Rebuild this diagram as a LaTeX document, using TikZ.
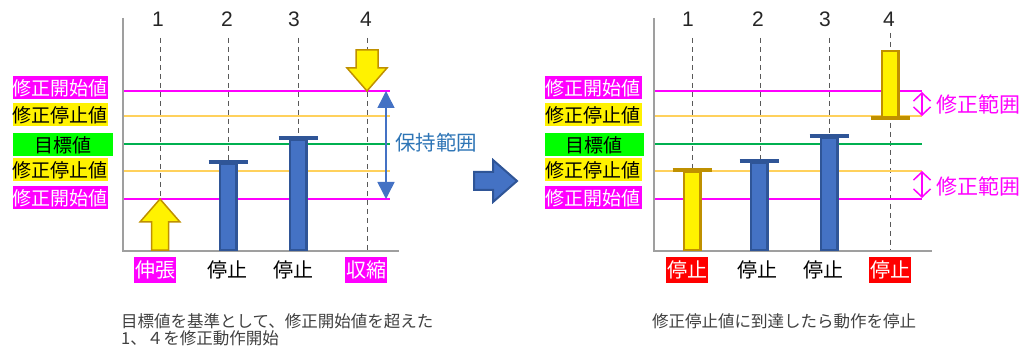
\documentclass[tikz,border=0pt]{standalone}
\usepackage{fontspec}
\setmainfont{Noto Sans CJK JP}
\newfontfamily\numfont{Liberation Sans}
\usetikzlibrary{arrows.meta, positioning}
\definecolor{startmag}{HTML}{FF00FF}
\definecolor{stoporange}{HTML}{FFD15C}
\definecolor{goalgreen}{HTML}{00B050}
\definecolor{labelgreen}{HTML}{00FF00}
\definecolor{barblue}{HTML}{4472C4}
\definecolor{bardark}{HTML}{2F5597}
\definecolor{bargold}{HTML}{BF9000}
\definecolor{holdblue}{HTML}{2E75B6}
\definecolor{captiongray}{HTML}{404040}

\begin{document}
\begin{tikzpicture}[x=1pt,y=-1pt,
    axisline/.style={draw=gray!75,line width=1.2pt},
    guide/.style={draw=gray!70!black,dash pattern=on 5pt off 4pt,line width=0.9pt},
    startline/.style={draw=startmag,line width=1.5pt},
    stopline/.style={draw=stoporange,line width=1.2pt},
    goalline/.style={draw=goalgreen,line width=1.8pt},
    levelbox/.style={minimum width=95pt,minimum height=23pt,inner sep=0pt,font=\fontsize{19}{19}\selectfont},
    colnum/.style={font=\numfont\fontsize{21}{21}\selectfont,text=black!85},
    statebox/.style={minimum width=42pt,minimum height=26pt,inner sep=0pt,font=\fontsize{20}{20}\selectfont},
    bluebar/.style={draw=bardark,fill=barblue,line width=2.5pt,minimum width=16.5pt,inner sep=0pt},
    yellowbar/.style={draw=bargold,fill=yellow,line width=2.5pt,minimum width=16.5pt,inner sep=0pt},
    bluecap/.style={draw=bardark,line width=4pt},
    yellowcap/.style={draw=bargold,line width=4pt},
    blockarrow/.style={draw=bargold,fill=yellow,line width=1.5pt,line join=miter},
    holdarrow/.style={draw=barblue,line width=1.5pt,{Triangle[width=17pt,length=17pt]}-{Triangle[width=17pt,length=17pt]}},
    fixarrow/.style={draw=startmag,line width=1.5pt,{Straight Barb[width=17pt,length=8pt]}-{Straight Barb[width=17pt,length=8pt]}},
    caption/.style={font=\fontsize{16.5}{17}\selectfont,text=captiongray,align=left,inner sep=0pt}
  ]
    \useasboundingbox (0,0) rectangle (1024,355);

    % left: before correction
    \draw[guide] (160,38) -- (160,251);
    \draw[guide] (228,38) -- (228,251);
    \draw[guide] (298,38) -- (298,251);
    \draw[guide] (367,38) -- (367,251);
    \node[colnum] (numA1) at (158,19) {1};
    \node[colnum] (numA2) at (227,19) {2};
    \node[colnum] (numA3) at (294,19) {3};
    \node[colnum] (numA4) at (366,19) {4};

    \draw[startline] (123,91) -- (390,91);
    \draw[stopline] (123,116) -- (390,116);
    \draw[goalline] (123,144) -- (390,144);
    \draw[stopline] (123,171) -- (390,171);
    \draw[startline] (123,199) -- (390,199);
    \draw[axisline] (123,18) -- (123,251) -- (399,251);

    \node[levelbox,fill=startmag,text=white] (startTopA) at (60,88) {修正開始値};
    \node[levelbox,fill=yellow] (stopTopA) at (60,115) {修正停止値};
    \node[levelbox,fill=labelgreen,minimum width=100pt] (goalA) at (63,145) {目標値};
    \node[levelbox,fill=yellow] (stopBotA) at (60,170) {修正停止値};
    \node[levelbox,fill=startmag,text=white] (startBotA) at (60,198) {修正開始値};

    \node[bluebar,minimum height=86pt,anchor=south] (barA2) at (228,251) {};
    \draw[bluecap] ([xshift=-10pt]barA2.north west) -- ([xshift=10pt]barA2.north east);
    \node[bluebar,minimum height=110pt,anchor=south] (barA3) at (298,251) {};
    \draw[bluecap] ([xshift=-10pt]barA3.north west) -- ([xshift=10pt]barA3.north east);

    \filldraw[blockarrow] (160,199) -- (180,222) -- (168.5,222) -- (168.5,250) -- (151.5,250) -- (151.5,222) -- (140,222) -- cycle;
    \filldraw[blockarrow] (356,50) -- (378,50) -- (378,68) -- (387,68) -- (367,91) -- (347,68) -- (356,68) -- cycle;

    \coordinate (holdTop) at (386,91);
    \coordinate (holdBot) at (386,199);
    \coordinate (holdMid) at (386,143);
    \draw[holdarrow] (holdTop) -- (holdBot);
    \node[font=\fontsize{20.5}{20.5}\selectfont,text=holdblue,inner sep=0pt,right=9pt of holdMid] (hold) {保持範囲};

    \node[statebox,fill=startmag,text=white] (stateA1) at (155,270) {伸張};
    \node[statebox] (stateA2) at (227,270) {停止};
    \node[statebox] (stateA3) at (293,270) {停止};
    \node[statebox,fill=startmag,text=white] (stateA4) at (366,270) {収縮};

    \node[caption,anchor=west] (noteA) at (121,329.5) {目標値を基準として、修正開始値を超えた\\1、４を修正動作開始};

    % middle
    \filldraw[draw=bardark,fill=barblue,line width=2pt] (474,172) -- (493,172) -- (493,160) -- (517,181) -- (493,202) -- (493,190) -- (474,190) -- cycle;

    % right: after correction
    \draw[guide] (692,38) -- (692,251);
    \draw[guide] (760,38) -- (760,251);
    \draw[guide] (829,38) -- (829,251);
    \draw[guide] (890,33) -- (890,251);
    \node[colnum] (numB1) at (688,19) {1};
    \node[colnum] (numB2) at (758,19) {2};
    \node[colnum] (numB3) at (825,19) {3};
    \node[colnum] (numB4) at (889,19) {4};

    \draw[startline] (654,91) -- (922,91);
    \draw[stopline] (654,116) -- (922,116);
    \draw[goalline] (654,144) -- (922,144);
    \draw[stopline] (654,171) -- (922,171);
    \draw[startline] (654,199) -- (922,199);
    \draw[axisline] (654,18) -- (654,251) -- (932,251);

    \node[levelbox,fill=startmag,text=white,minimum width=97pt] (startTopB) at (593,88) {修正開始値};
    \node[levelbox,fill=yellow,minimum width=97pt] (stopTopB) at (593,115) {修正停止値};
    \node[levelbox,fill=labelgreen,minimum width=99pt] (goalB) at (594,145) {目標値};
    \node[levelbox,fill=yellow,minimum width=97pt] (stopBotB) at (593,170) {修正停止値};
    \node[levelbox,fill=startmag,text=white,minimum width=97pt] (startBotB) at (593,198) {修正開始値};

    \node[yellowbar,minimum height=78pt,anchor=south] (barB1) at (692,251) {};
    \draw[yellowcap] ([xshift=-10pt]barB1.north west) -- ([xshift=10pt]barB1.north east);
    \node[bluebar,minimum height=87pt,anchor=south] (barB2) at (759,251) {};
    \draw[bluecap] ([xshift=-10pt]barB2.north west) -- ([xshift=10pt]barB2.north east);
    \node[bluebar,minimum height=112pt,anchor=south] (barB3) at (829,251) {};
    \draw[bluecap] ([xshift=-10pt]barB3.north west) -- ([xshift=10pt]barB3.north east);
    \node[yellowbar,minimum height=66pt,anchor=north] (barB4) at (890,50) {};
    \draw[yellowcap] ([xshift=-10pt]barB4.south west) -- ([xshift=10pt]barB4.south east);

    \coordinate (fixTopA) at (922,92);
    \coordinate (fixTopB) at (922,116);
    \coordinate (fixBotA) at (922,171);
    \coordinate (fixBotB) at (922,198);
    \draw[fixarrow] (fixTopA) -- (fixTopB);
    \draw[fixarrow] (fixBotA) -- (fixBotB);
    \node[font=\fontsize{21}{21}\selectfont,text=startmag,inner sep=0pt,anchor=west] (fixUpper) at (936,104) {修正範囲};
    \node[font=\fontsize{21}{21}\selectfont,text=startmag,inner sep=0pt,anchor=west] (fixLower) at (936,186) {修正範囲};

    \node[statebox,fill=red,text=white] (stateB1) at (687,270) {停止};
    \node[statebox] (stateB2) at (757,270) {停止};
    \node[statebox] (stateB3) at (823,270) {停止};
    \node[statebox,fill=red,text=white] (stateB4) at (890,270) {停止};

    \node[caption,anchor=west] (noteB) at (652,321) {修正停止値に到達したら動作を停止};
  \end{tikzpicture}
\end{document}
